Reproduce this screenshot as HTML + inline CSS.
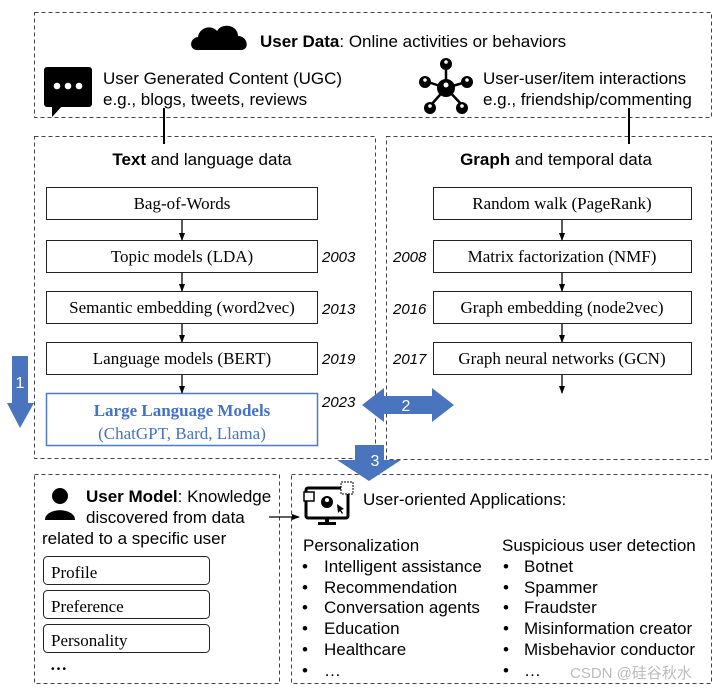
<!DOCTYPE html>
<html><head><meta charset="utf-8"><style>
html,body{margin:0;padding:0;background:#fff;}
svg{display:block;}
.s{font-family:"Liberation Sans",Arial,sans-serif;fill:#000;}
.t{font-family:"Liberation Serif","Times New Roman",serif;fill:#000;font-size:17px;}
.y{font-family:"Liberation Sans",Arial,sans-serif;font-style:italic;font-size:15px;fill:#000;}
.d{fill:none;stroke:#444;stroke-width:1;stroke-dasharray:4,3;}
.b{fill:#fff;stroke:#222;stroke-width:1;}
</style></head><body>
<svg width="720" height="691" viewBox="0 0 720 691" xmlns="http://www.w3.org/2000/svg">
<defs>
<marker id="ar" markerWidth="8" markerHeight="8" refX="7" refY="4" orient="auto" markerUnits="userSpaceOnUse"><path d="M0,1 L8,4 L0,7 Z" fill="#000"/></marker></defs>

<rect class="d" x="34.5" y="12.5" width="677" height="105"/>
<rect class="d" x="34.5" y="136.5" width="341" height="322"/>
<rect class="d" x="386.5" y="136.5" width="325" height="323"/>
<rect class="d" x="34.5" y="474.5" width="245" height="209"/>
<rect class="d" x="291.5" y="474.5" width="420" height="209"/>

<line x1="164" y1="108" x2="164" y2="144" stroke="#000" stroke-width="2"/>
<line x1="629" y1="108" x2="629" y2="144" stroke="#000" stroke-width="2"/>

<path d="M197,50 C189,50 189,38 198,37 C199,28 211,24 217,31 C222,22 238,25 238,36 C248,36 250,50 241,50 Z" fill="#000"/>
<text class="s" x="260" y="47" font-size="17"><tspan font-weight="bold">User Data</tspan>: Online activities or behaviors</text>

<rect x="44" y="67" width="48" height="40" rx="3" fill="#000"/>
<path d="M52,104 L52,117 L64,104 Z" fill="#000"/>
<circle cx="57" cy="86" r="3.3" fill="#fff"/><circle cx="68" cy="86" r="3.3" fill="#fff"/><circle cx="79" cy="86" r="3.3" fill="#fff"/>
<text class="s" x="103" y="84" font-size="17">User Generated Content (UGC)</text>
<text class="s" x="103" y="105" font-size="17">e.g., blogs, tweets, reviews</text>

<g stroke="#000" stroke-width="2.5">
<line x1="446" y1="88" x2="446" y2="70"/><line x1="446" y1="88" x2="428" y2="82"/><line x1="446" y1="88" x2="466" y2="82"/>
<line x1="446" y1="88" x2="431" y2="105"/><line x1="446" y1="88" x2="462" y2="105"/></g>
<g fill="#000"><circle cx="446" cy="88" r="9"/><circle cx="446" cy="64" r="6"/><circle cx="425" cy="82" r="6"/><circle cx="467" cy="82" r="6"/><circle cx="430" cy="108" r="6"/><circle cx="462" cy="108" r="6"/></g>
<g fill="#fff"><circle cx="446" cy="85" r="2.5"/><circle cx="446" cy="62" r="1.8"/><circle cx="425" cy="80" r="1.8"/><circle cx="467" cy="80" r="1.8"/><circle cx="430" cy="106" r="1.8"/><circle cx="462" cy="106" r="1.8"/></g>
<text class="s" x="483" y="84" font-size="17">User-user/item interactions</text>
<text class="s" x="483" y="105" font-size="17">e.g., friendship/commenting</text>

<text class="s" x="202" y="165" font-size="17" text-anchor="middle"><tspan font-weight="bold">Text</tspan> and language data</text>
<text class="s" x="556" y="165" font-size="17" text-anchor="middle"><tspan font-weight="bold">Graph</tspan> and temporal data</text>

<rect class="b" x="46.5" y="187.5" width="271" height="32"/>
<text class="t" x="182" y="209" text-anchor="middle">Bag-of-Words</text>
<rect class="b" x="46.5" y="240.5" width="271" height="32"/>
<text class="t" x="182" y="262" text-anchor="middle">Topic models (LDA)</text>
<rect class="b" x="46.5" y="291.5" width="271" height="32"/>
<text class="t" x="182" y="313" text-anchor="middle">Semantic embedding (word2vec)</text>
<rect class="b" x="46.5" y="342.5" width="271" height="32"/>
<text class="t" x="182" y="364" text-anchor="middle">Language models (BERT)</text>
<rect x="46.5" y="393.5" width="271" height="52" fill="#fff" stroke="#4a7cc6" stroke-width="1.5"/>
<text class="t" x="182" y="416" text-anchor="middle" font-weight="bold" font-size="18" style="fill:#4472c4">Large Language Models</text>
<text class="t" x="182" y="439" text-anchor="middle" font-size="18" style="fill:#4472c4">(ChatGPT, Bard, Llama)</text>
<g stroke="#000" stroke-width="1.3">
<line x1="182" y1="220" x2="182" y2="240" marker-end="url(#ar)"/>
<line x1="182" y1="273" x2="182" y2="291" marker-end="url(#ar)"/>
<line x1="182" y1="324" x2="182" y2="342" marker-end="url(#ar)"/>
<line x1="182" y1="375" x2="182" y2="393" marker-end="url(#ar)"/>
</g>
<text class="y" x="322" y="262">2003</text>
<text class="y" x="322" y="314">2013</text>
<text class="y" x="322" y="364">2019</text>
<text class="y" x="322" y="407">2023</text>

<rect class="b" x="433.5" y="187.5" width="258" height="32"/>
<text class="t" x="562" y="209" text-anchor="middle">Random walk (PageRank)</text>
<rect class="b" x="433.5" y="240.5" width="258" height="32"/>
<text class="t" x="562" y="262" text-anchor="middle">Matrix factorization (NMF)</text>
<rect class="b" x="433.5" y="291.5" width="258" height="32"/>
<text class="t" x="562" y="313" text-anchor="middle">Graph embedding (node2vec)</text>
<rect class="b" x="433.5" y="342.5" width="258" height="32"/>
<text class="t" x="562" y="364" text-anchor="middle">Graph neural networks (GCN)</text>
<g stroke="#000" stroke-width="1.3">
<line x1="562" y1="220" x2="562" y2="240" marker-end="url(#ar)"/>
<line x1="562" y1="273" x2="562" y2="291" marker-end="url(#ar)"/>
<line x1="562" y1="324" x2="562" y2="342" marker-end="url(#ar)"/>
<line x1="562" y1="375" x2="562" y2="393" marker-end="url(#ar)"/>
</g>
<text class="y" x="393" y="262">2008</text>
<text class="y" x="393" y="314">2016</text>
<text class="y" x="393" y="364">2017</text>

<path d="M12,356 L28,356 L28,403 L34,403 L20,428 L7,403 L12,403 Z" fill="#4a74bd"/>
<text class="s" x="20" y="388" font-size="16" text-anchor="middle" style="fill:#fff">1</text>
<path d="M362,405 L384,388 L384,396 L432,396 L432,388 L454,405 L432,422 L432,414 L384,414 L384,422 Z" fill="#4a74bd"/>
<text class="s" x="406" y="411" font-size="16" text-anchor="middle" style="fill:#fff">2</text>
<path d="M355,445 L384,445 L384,460 L401,460 L369,481 L337,460 L355,460 Z" fill="#4a74bd"/>
<text class="s" x="375" y="466" font-size="16" text-anchor="middle" style="fill:#fff">3</text>

<circle cx="60" cy="496" r="8" fill="#000"/>
<path d="M45,520 C45,507 75,507 75,520 Z" fill="#000"/>
<text class="s" x="86" y="502" font-size="17"><tspan font-weight="bold">User Model</tspan>: Knowledge</text>
<text class="s" x="86" y="523" font-size="17">discovered from data</text>
<text class="s" x="42" y="544" font-size="17">related to a specific user</text>
<rect class="b" x="43.5" y="556.5" width="166" height="28" rx="4"/>
<text class="t" x="51" y="578" font-size="18">Profile</text>
<rect class="b" x="43.5" y="590.5" width="166" height="28" rx="4"/>
<text class="t" x="51" y="612" font-size="18">Preference</text>
<rect class="b" x="43.5" y="624.5" width="166" height="28" rx="4"/>
<text class="t" x="51" y="646" font-size="18">Personality</text>
<text class="t" x="50" y="670" font-size="18" font-weight="bold">…</text>

<line x1="269" y1="517" x2="299" y2="517" stroke="#000" stroke-width="1.2" marker-end="url(#ar)"/>

<rect x="306" y="488" width="42" height="30" rx="2" fill="none" stroke="#000" stroke-width="3"/>
<rect x="325" y="518" width="4" height="5" fill="#000"/>
<rect x="318" y="522" width="18" height="3" fill="#000"/>
<rect x="304" y="492" width="10" height="9" fill="#fff" stroke="#000" stroke-width="1.5"/>
<circle cx="327" cy="502" r="6" fill="#000"/><circle cx="327" cy="500" r="2" fill="#fff"/>
<rect x="341" y="482" width="12" height="12" fill="#fff" stroke="#000" stroke-dasharray="2,1"/>
<path d="M337,504 L344,509 L341,510 L343,513 L342,514 L340,511 L338,513 Z" fill="#000"/>
<text class="s" x="363" y="505" font-size="17">User-oriented Applications:</text>

<g class="s" font-size="17">
<text x="303" y="551">Personalization</text>
<text x="302" y="572">•</text><text x="324" y="572">Intelligent assistance</text>
<text x="302" y="593">•</text><text x="324" y="593">Recommendation</text>
<text x="302" y="613">•</text><text x="324" y="613">Conversation agents</text>
<text x="302" y="634">•</text><text x="324" y="634">Education</text>
<text x="302" y="655">•</text><text x="324" y="655">Healthcare</text>
<text x="302" y="676">•</text><text x="324" y="676">…</text>
<text x="502" y="551">Suspicious user detection</text>
<text x="503" y="572">•</text><text x="524" y="572">Botnet</text>
<text x="503" y="593">•</text><text x="524" y="593">Spammer</text>
<text x="503" y="613">•</text><text x="524" y="613">Fraudster</text>
<text x="503" y="634">•</text><text x="524" y="634">Misinformation creator</text>
<text x="503" y="655">•</text><text x="524" y="655">Misbehavior conductor</text>
<text x="503" y="676">•</text><text x="524" y="676">…</text>
</g>
<text x="570" y="678" font-size="15" style="fill:#bbb;font-family:'Liberation Sans','Noto Sans CJK SC',sans-serif">CSDN @硅谷秋水</text>
</svg>
</body></html>
